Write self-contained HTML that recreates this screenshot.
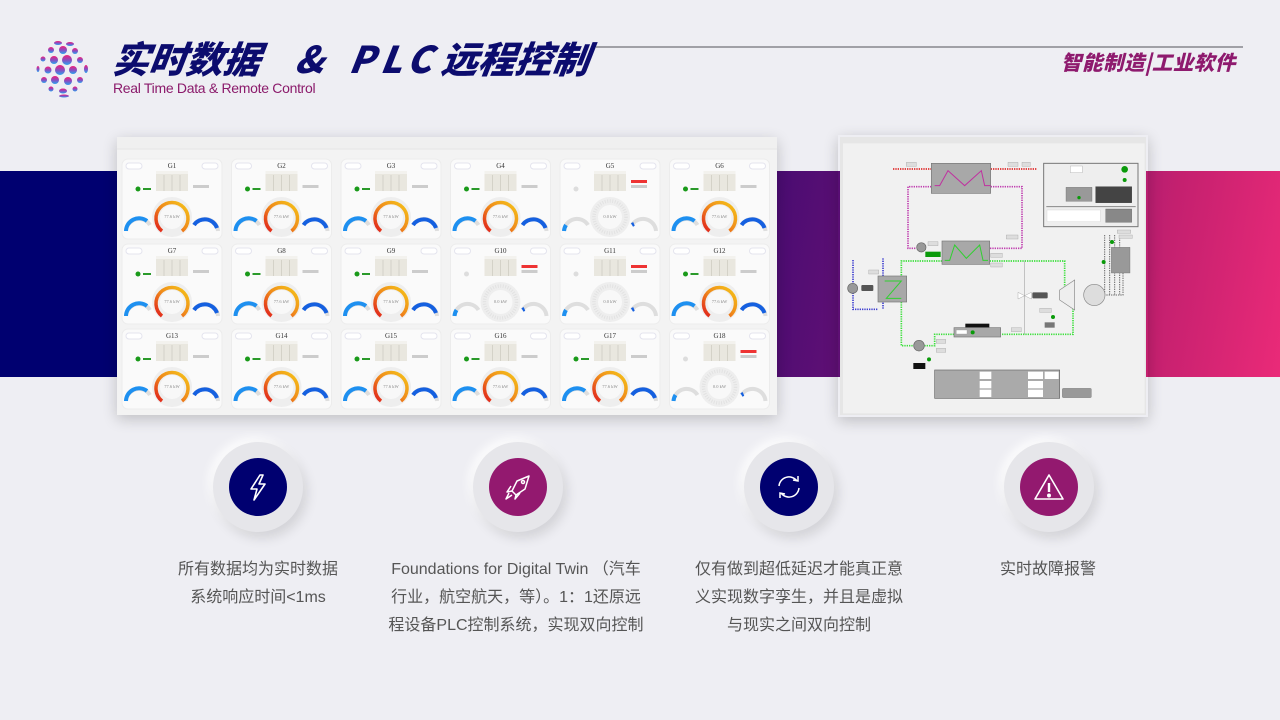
<!DOCTYPE html>
<html><head><meta charset="utf-8"><style>
*{margin:0;padding:0;box-sizing:border-box}
body{width:1280px;height:720px;overflow:hidden;background:#eeeef3;position:relative;font-family:"Liberation Sans","Noto Sans CJK SC",sans-serif}
.abs{position:absolute}
.t{top:33px;font-size:37px;font-weight:900;font-style:italic;color:#0c0c6e;white-space:nowrap;font-family:"Noto Sans CJK SC","Liberation Sans",sans-serif;transform:skewX(-8deg);line-height:48px}
.sub{left:113px;top:80px;font-size:14px;color:#8b1a6b;white-space:nowrap;letter-spacing:-0.3px}
.tag{left:1061px;top:46px;font-size:20.5px;font-weight:900;font-style:italic;color:#8e1a6e;white-space:nowrap;font-family:"Noto Sans CJK SC",sans-serif;letter-spacing:0.5px}
.ic{width:90px;height:90px;border-radius:50%;background:#e6e6ea;box-shadow:4px 6px 12px rgba(0,0,0,.12),-4px -4px 10px rgba(255,255,255,.9)}
.ic .in{position:absolute;left:16px;top:16px;width:58px;height:58px;border-radius:50%}
.txt{font-size:16px;color:#555;line-height:28px;text-align:center;white-space:nowrap}
</style></head><body>
<div class="abs" style="left:0;top:171px;width:777px;height:206px;background:#000070"></div>
<div class="abs" style="left:777px;top:171px;width:503px;height:206px;background:linear-gradient(100deg,#4a0c72 0%,#7a1477 40%,#c4206f 75%,#ea2a78 100%)"></div>
<svg class="abs" style="left:34px;top:38px" width="60" height="60" viewBox="0 0 60 60">
<defs><linearGradient id="lg" x1="0" y1="0" x2="0" y2="1"><stop offset="0" stop-color="#f0207a"/><stop offset=".5" stop-color="#8a4cc0"/><stop offset="1" stop-color="#2aa3ef"/></linearGradient></defs>
<g fill="url(#lg)">
<ellipse cx="24" cy="5" rx="4" ry="2"/><ellipse cx="36" cy="6" rx="4" ry="2"/>
<circle cx="17" cy="12" r="3"/><circle cx="29" cy="12" r="4"/><circle cx="41" cy="13" r="3"/>
<circle cx="9" cy="21" r="2.5"/><circle cx="20" cy="22" r="4"/><circle cx="33" cy="22" r="5"/><circle cx="46" cy="22" r="3"/>
<ellipse cx="4" cy="31" rx="1.5" ry="3"/><circle cx="14" cy="32" r="3.5"/><circle cx="26" cy="32" r="5"/><circle cx="39" cy="32" r="4"/><ellipse cx="52" cy="31" rx="2" ry="4"/>
<circle cx="10" cy="42" r="3"/><circle cx="21" cy="42" r="4"/><circle cx="34" cy="43" r="4"/><circle cx="46" cy="42" r="3"/>
<circle cx="17" cy="51" r="2.5"/><ellipse cx="29" cy="53" rx="4" ry="2.5"/><circle cx="41" cy="51" r="2.5"/>
<ellipse cx="30" cy="58" rx="5" ry="1.5"/></g></svg>
<div class="abs t" style="left:113px">实时数据</div>
<div class="abs t" style="left:296px">&amp;</div>
<div class="abs t" style="left:350px;letter-spacing:6px">PLC</div>
<div class="abs t" style="left:442px">远程控制</div>
<div class="abs sub">Real Time Data &amp; Remote Control</div>
<div class="abs" style="left:596px;top:46px;width:647px;height:2px;background:#a0a0a6"></div>
<div class="abs tag">智能制造|工业软件</div>

<svg class="abs" style="left:117px;top:137px;box-shadow:0 4px 14px rgba(0,0,0,.2)" width="660" height="278" viewBox="0 0 660 278">
<defs>
<linearGradient id="ga" x1="0" y1="1" x2="1" y2="0"><stop offset="0" stop-color="#e0201c"/><stop offset=".5" stop-color="#f08a1a"/><stop offset="1" stop-color="#f5c518"/></linearGradient>
<g id="cb">
<rect x="0" y="0" width="100" height="80" rx="6" fill="#fafafa" stroke="#ececec"/>
<rect x="4" y="4" width="16" height="6" rx="3" fill="#fff" stroke="#e4e4ee"/>
<rect x="80" y="4" width="16" height="6" rx="3" fill="#fff" stroke="#e4e4ee"/>
<rect x="34" y="12" width="32" height="20" fill="#e9e7df"/><rect x="34" y="12" width="32" height="3" fill="#f3f2ee"/>
<line x1="42" y1="16" x2="42" y2="32" stroke="#d4d2c8"/><line x1="50" y1="16" x2="50" y2="32" stroke="#d4d2c8"/><line x1="58" y1="16" x2="58" y2="32" stroke="#d4d2c8"/>
<circle cx="50" cy="58" r="20" fill="#eeeeee"/><circle cx="50" cy="58" r="12" fill="#f8f8f8"/>
<path d="M4 72 A13 13 0 0 1 28 66" fill="none" stroke="#dedede" stroke-width="4"/>
<path d="M72 66 A13 13 0 0 1 96 72" fill="none" stroke="#dedede" stroke-width="4"/>
<rect x="71" y="26" width="16" height="3" fill="#ccc"/>
</g>
<g id="on"><path d="M40 72 A16 16 0 1 1 60 72" fill="none" stroke="url(#ga)" stroke-width="3.5"/>
<path d="M4 72 A13 13 0 0 1 25 62" fill="none" stroke="#1e90f0" stroke-width="4"/><path d="M72 66 A13 13 0 0 1 95 69" fill="none" stroke="#1560e0" stroke-width="4"/>
<circle cx="16" cy="30" r="2.5" fill="#1a9a1a"/><rect x="21" y="29" width="8" height="2" fill="#2a9a2a"/>
<text x="50" y="59" font-size="4.5" fill="#888" text-anchor="middle">77.6 kW</text></g>
<g id="off"><circle cx="50" cy="58" r="16" fill="none" stroke="#e2e2e2" stroke-width="3.5" stroke-dasharray="1 1.5"/>
<path d="M4 72 A13 13 0 0 1 6 66" fill="none" stroke="#1e90f0" stroke-width="4"/><path d="M72 66 A13 13 0 0 1 74 65" fill="none" stroke="#1560e0" stroke-width="4"/>
<circle cx="16" cy="30" r="2.5" fill="#ddd"/><rect x="71" y="21" width="16" height="3" fill="#e33"/>
<text x="50" y="59" font-size="4.5" fill="#888" text-anchor="middle">0.0 kW</text></g>
</defs>
<rect width="660" height="278" fill="#f3f3f3"/>
<rect x="0" y="0" width="660" height="12" fill="#f0f0f0"/><line x1="0" y1="12" x2="660" y2="12" stroke="#e6e6e6"/>
<g font-family="Liberation Serif,serif" font-size="7" fill="#333" text-anchor="middle">
<use href="#cb" x="5" y="22"/><use href="#on" x="5" y="22"/><text x="55" y="31">G1</text>
<use href="#cb" x="114.5" y="22"/><use href="#on" x="114.5" y="22"/><text x="164.5" y="31">G2</text>
<use href="#cb" x="224" y="22"/><use href="#on" x="224" y="22"/><text x="274" y="31">G3</text>
<use href="#cb" x="333.5" y="22"/><use href="#on" x="333.5" y="22"/><text x="383.5" y="31">G4</text>
<use href="#cb" x="443" y="22"/><use href="#off" x="443" y="22"/><text x="493" y="31">G5</text>
<use href="#cb" x="552.5" y="22"/><use href="#on" x="552.5" y="22"/><text x="602.5" y="31">G6</text>
<use href="#cb" x="5" y="107"/><use href="#on" x="5" y="107"/><text x="55" y="116">G7</text>
<use href="#cb" x="114.5" y="107"/><use href="#on" x="114.5" y="107"/><text x="164.5" y="116">G8</text>
<use href="#cb" x="224" y="107"/><use href="#on" x="224" y="107"/><text x="274" y="116">G9</text>
<use href="#cb" x="333.5" y="107"/><use href="#off" x="333.5" y="107"/><text x="383.5" y="116">G10</text>
<use href="#cb" x="443" y="107"/><use href="#off" x="443" y="107"/><text x="493" y="116">G11</text>
<use href="#cb" x="552.5" y="107"/><use href="#on" x="552.5" y="107"/><text x="602.5" y="116">G12</text>
<use href="#cb" x="5" y="192"/><use href="#on" x="5" y="192"/><text x="55" y="201">G13</text>
<use href="#cb" x="114.5" y="192"/><use href="#on" x="114.5" y="192"/><text x="164.5" y="201">G14</text>
<use href="#cb" x="224" y="192"/><use href="#on" x="224" y="192"/><text x="274" y="201">G15</text>
<use href="#cb" x="333.5" y="192"/><use href="#on" x="333.5" y="192"/><text x="383.5" y="201">G16</text>
<use href="#cb" x="443" y="192"/><use href="#on" x="443" y="192"/><text x="493" y="201">G17</text>
<use href="#cb" x="552.5" y="192"/><use href="#off" x="552.5" y="192"/><text x="602.5" y="201">G18</text>
</g></svg>

<svg class="abs" style="left:838px;top:135px;box-shadow:0 4px 14px rgba(0,0,0,.2)" width="310" height="282" viewBox="0 0 930 846">
<rect x="6" y="6" width="918" height="834" fill="#e6e6e6"/>
<rect x="15" y="25" width="905" height="810" fill="#f1f1f1"/>
<g fill="none" stroke-width="5" stroke-dasharray="4 3">
<path d="M165 102H280M458 102H595" stroke="#e03030"/>
<path d="M280 155H210V340H235M458 155H552V340H455" stroke="#c040b0"/>
<path d="M312 378H190V632H228M455 378H680V460M705 520V598H490M348 598H290V632H260" stroke="#40e040"/>
<path d="M45 375V523H120M135 370V523" stroke="#4040d0"/>
<path d="M800 300V478M815 300V478M830 300V478M845 300V478M855 400V480H780" stroke="#666" stroke-width="3"/>
</g>
<line x1="560" y1="378" x2="560" y2="598" stroke="#aaa" stroke-width="2"/>
<rect x="280" y="85" width="178" height="90" fill="#a8a8a8" stroke="#777" stroke-width="2"/>
<polyline points="290,152 305,152 330,107 380,152 430,107 440,152 458,152" fill="none" stroke="#c030a0" stroke-width="3"/>
<rect x="312" y="318" width="143" height="70" fill="#a8a8a8" stroke="#777" stroke-width="2"/>
<polyline points="320,376 335,376 350,330 385,370 425,330 435,376 450,376" fill="none" stroke="#30d030" stroke-width="3"/>
<rect x="120" y="423" width="86" height="78" fill="#a8a8a8" stroke="#777" stroke-width="2"/>
<polyline points="140,438 190,438 145,490 190,490" fill="none" stroke="#30d030" stroke-width="3"/>
<circle cx="44" cy="460" r="15" fill="#999" stroke="#666" stroke-width="2"/>
<circle cx="250" cy="337" r="14" fill="#999" stroke="#666" stroke-width="2"/>
<circle cx="243" cy="632" r="16" fill="#999" stroke="#666" stroke-width="2"/>
<rect x="70" y="450" width="36" height="18" rx="3" fill="#555"/>
<rect x="262" y="350" width="46" height="16" fill="#0a9a0a"/>
<rect x="348" y="578" width="140" height="28" fill="#a8a8a8" stroke="#777" stroke-width="2"/>
<rect x="382" y="566" width="72" height="11" fill="#111"/>
<circle cx="404" cy="592" r="6" fill="#0a9a0a"/>
<rect x="617" y="85" width="283" height="190" fill="#eee" stroke="#777" stroke-width="3"/>
<rect x="697" y="93" width="36" height="20" fill="#fff" stroke="#999"/>
<circle cx="860" cy="103" r="10" fill="#0a9a0a"/><circle cx="860" cy="135" r="6" fill="#0a9a0a"/>
<rect x="684" y="157" width="78" height="42" fill="#999" stroke="#666"/><circle cx="723" cy="188" r="5" fill="#0a9a0a"/>
<rect x="773" y="155" width="108" height="48" fill="#444" stroke="#222"/>
<line x1="625" y1="215" x2="893" y2="215" stroke="#888" stroke-width="3"/>
<rect x="627" y="225" width="160" height="35" fill="#fff" stroke="#ccc"/>
<rect x="803" y="222" width="78" height="40" fill="#888" stroke="#555"/>
<rect x="820" y="337" width="56" height="77" fill="#999" stroke="#666"/>
<circle cx="797" cy="381" r="6" fill="#0a9a0a"/><circle cx="822" cy="321" r="6" fill="#0a9a0a"/>
<circle cx="769" cy="480" r="32" fill="#ddd" stroke="#888" stroke-width="2"/>
<polygon points="665,465 710,435 710,525 665,495" fill="#eee" stroke="#888" stroke-width="2"/>
<polygon points="540,472 560,482 540,492" fill="#fff" stroke="#888"/><polygon points="580,472 560,482 580,492" fill="#fff" stroke="#888"/>
<rect x="583" y="472" width="46" height="18" rx="3" fill="#555"/>
<rect x="620" y="562" width="30" height="16" fill="#777"/><circle cx="645" cy="546" r="6" fill="#0a9a0a"/>
<circle cx="273" cy="673" r="6" fill="#0a9a0a"/><rect x="226" y="684" width="36" height="18" fill="#111"/>
<rect x="290" y="705" width="375" height="85" fill="#aaa" stroke="#666" stroke-width="2"/>
<g fill="#fff"><rect x="425" y="710" width="35" height="22"/><rect x="425" y="738" width="35" height="22"/><rect x="425" y="764" width="35" height="22"/>
<rect x="570" y="710" width="45" height="22"/><rect x="620" y="710" width="42" height="22"/><rect x="570" y="738" width="45" height="22"/><rect x="570" y="764" width="45" height="22"/></g>
<rect x="673" y="760" width="87" height="28" rx="3" fill="#999" stroke="#666"/>
<g fill="#ddd" stroke="#999"><rect x="205" y="82" width="30" height="12"/><rect x="510" y="82" width="30" height="12"/><rect x="552" y="82" width="25" height="12"/><rect x="92" y="405" width="30" height="12"/><rect x="505" y="300" width="35" height="12"/><rect x="458" y="355" width="35" height="12"/><rect x="458" y="384" width="35" height="12"/><rect x="270" y="320" width="30" height="12"/><rect x="520" y="578" width="30" height="12"/><rect x="605" y="520" width="35" height="12"/><rect x="295" y="613" width="28" height="12"/><rect x="295" y="640" width="28" height="12"/><rect x="355" y="585" width="32" height="12" fill="#fff"/><rect x="838" y="285" width="40" height="10"/><rect x="843" y="300" width="40" height="10"/></g>
</svg>

<div class="abs ic" style="left:213px;top:442px"><div class="in" style="background:#000070"></div>
<svg class="abs" style="left:30px;top:30px" width="30" height="30" viewBox="0 0 30 30"><polygon points="17,3 8,17 14,17 11,28 22,12 16,12 20,3" fill="none" stroke="#fff" stroke-width="1.6" stroke-linejoin="round"/></svg></div>
<div class="abs ic" style="left:473px;top:442px"><div class="in" style="background:#93196f"></div>
<svg class="abs" style="left:29px;top:29px" width="32" height="32" viewBox="0 0 32 32" fill="none" stroke="#fff" stroke-width="1.5" stroke-linejoin="round"><path d="M27 5 L15 10 L10 20 L14 24 L23 18 Z"/><circle cx="21" cy="11" r="1.5"/><path d="M10 20 L5 21 L9 15 M14 24 L13 28 L18 22"/><path d="M10 24 L4 28 L7 22"/></svg></div>
<div class="abs ic" style="left:744px;top:442px"><div class="in" style="background:#000070"></div>
<svg class="abs" style="left:30px;top:30px" width="30" height="30" viewBox="0 0 30 30" fill="none" stroke="#fff" stroke-width="1.5"><path d="M5 14 A10 10 0 0 1 23 9"/><path d="M19 8 L24 9 L24 4"/><path d="M25 16 A10 10 0 0 1 7 21"/><path d="M11 22 L6 21 L6 26"/></svg></div>
<div class="abs ic" style="left:1004px;top:442px"><div class="in" style="background:#93196f"></div>
<svg class="abs" style="left:27px;top:27px" width="36" height="36" viewBox="0 0 36 36" fill="none" stroke="#fff" stroke-width="1.6" stroke-linejoin="round"><path d="M18 6 L32 30 H4 Z"/><line x1="18" y1="14" x2="18" y2="23" stroke-width="2.4"/><circle cx="18" cy="26.5" r="1.2" fill="#fff"/></svg></div>

<div class="abs txt" style="left:158px;top:556px;width:200px">所有数据均为实时数据<br>系统响应时间&lt;1ms</div>
<div class="abs txt" style="left:366px;top:556px;width:300px">Foundations for Digital Twin （汽车<br>行业，航空航天，等）。1：1还原远<br>程设备PLC控制系统，实现双向控制</div>
<div class="abs txt" style="left:679px;top:556px;width:240px">仅有做到超低延迟才能真正意<br>义实现数字孪生，并且是虚拟<br>与现实之间双向控制</div>
<div class="abs txt" style="left:948px;top:556px;width:200px">实时故障报警</div>
</body></html>
